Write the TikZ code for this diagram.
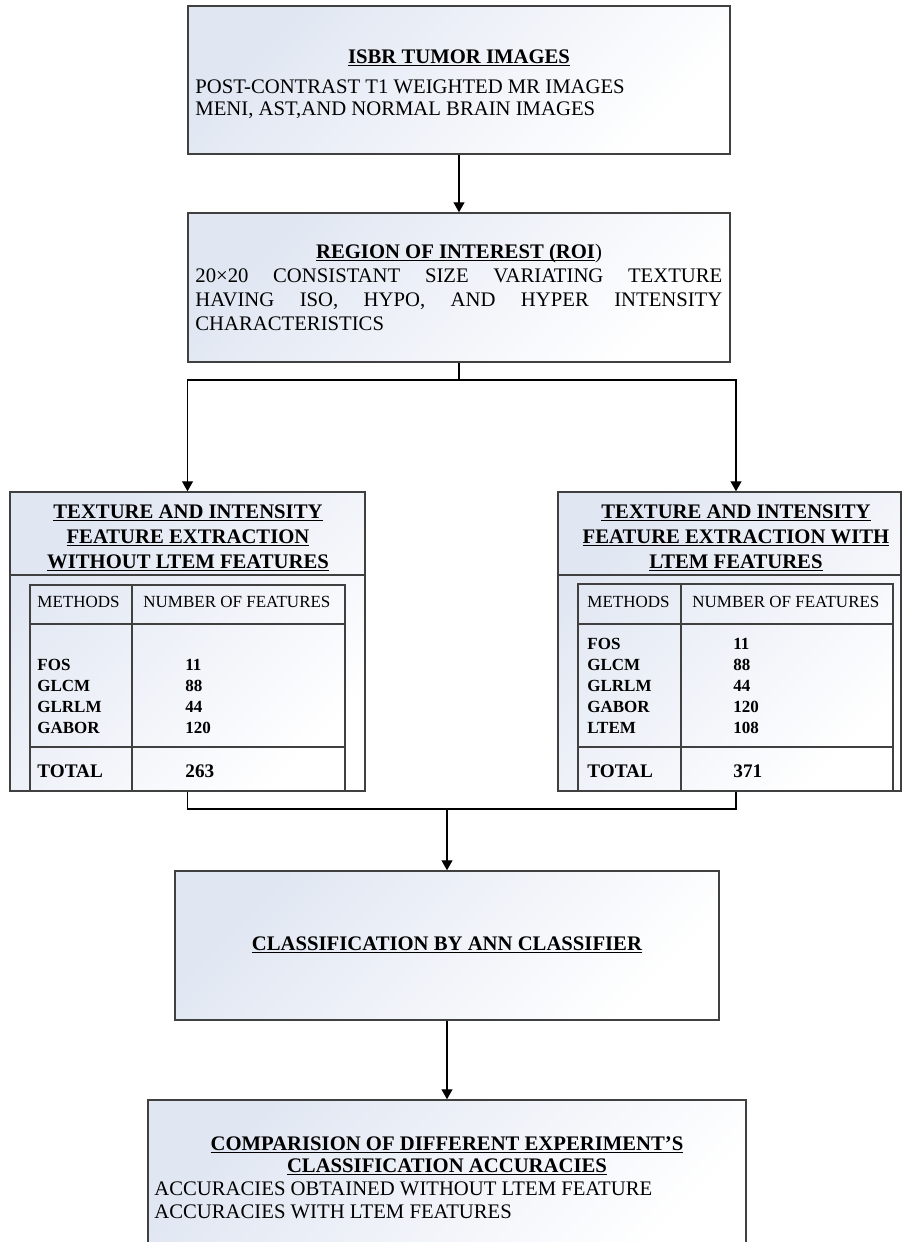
\documentclass[tikz,border=0pt]{standalone}
\usepackage{fontspec}
\setmainfont{Liberation Serif}
\usetikzlibrary{arrows.meta}
\usetikzlibrary{positioning}

\definecolor{stagefill}{RGB}{224,230,242}
\definecolor{stageline}{RGB}{64,64,64}

\newsavebox\ulbox
\newcommand\uln[1]{\sbox\ulbox{#1}\rlap{\vrule height -0.75pt depth 1.5pt width \wd\ulbox}\usebox\ulbox}

\begin{document}
\begin{tikzpicture}[x=0.5pt,y=-0.5pt,
  stage/.style={draw=stageline,line width=0.75pt,top color=stagefill,bottom color=white,shading angle=45,inner sep=0pt},
  head/.style={font=\fontsize{10.35}{12.5}\selectfont\bfseries,inner sep=0pt,align=center,anchor=base},
  body/.style={font=\fontsize{10.35}{11}\selectfont,inner sep=0pt,anchor=base west},
  cell/.style={font=\fontsize{8.5}{10}\selectfont,inner sep=0pt,anchor=base west},
  cellb/.style={font=\fontsize{8.5}{10}\selectfont\bfseries,inner sep=0pt,anchor=base west},
  total/.style={font=\fontsize{9.6}{11}\selectfont\bfseries,inner sep=0pt,anchor=base west},
  tabline/.style={draw=stageline,line width=0.6pt},
  link/.style={line width=0.65pt},
  arr/.style={link,-{Triangle[length=5pt,width=5.5pt]}}]

\useasboundingbox (0,0) rectangle (902,1242);
\clip (0,0) rectangle (902,1242);

% boxes
\node[stage,minimum width=271pt,minimum height=74pt] (isbr) at (459,80) {};
\node[stage,minimum width=271pt,minimum height=74.5pt] (roi) at (459,287.5) {};
\node[stage,minimum width=177.5pt,minimum height=149.5pt] (woltem) at (187.5,641.5) {};
\node[stage,minimum width=171.5pt,minimum height=149.5pt] (wltem) at (729.5,641.5) {};
\node[stage,minimum width=272pt,minimum height=74.5pt] (ann) at (447,945.5) {};
\node[stage,minimum width=299pt,minimum height=80pt] (comp) at (447,1180) {};

% ISBR images
\node[head] (isbrt) at (459,63) {\uln{ISBR TUMOR IMAGES}};
\node[body] (isbra) at (195,93) {POST-CONTRAST T1 WEIGHTED MR IMAGES};
\node[body] (isbrb) at (195,115) {MENI, AST,AND NORMAL BRAIN IMAGES};

% region of interest
\node[head] (roit) at (459,258) {\uln{REGION OF INTEREST (ROI}\textmd{)}};
\node[body] (roia) at (195,282) {\makebox[263.5pt][s]{20×20 CONSISTANT SIZE VARIATING TEXTURE}};
\node[body] (roib) at (195,306) {\makebox[263.5pt][s]{HAVING ISO, HYPO, AND HYPER INTENSITY}};
\node[body] (roic) at (195,330) {CHARACTERISTICS};

% feature extraction headers (base = last line)
\node[head] (woltemt) at (188,568) {\uln{TEXTURE AND INTENSITY}\\\uln{FEATURE EXTRACTION}\\\uln{WITHOUT LTEM FEATURES}};
\node[head] (wltemt) at (736,568) {\uln{TEXTURE AND INTENSITY}\\\uln{FEATURE EXTRACTION WITH}\\\uln{LTEM FEATURES}};
\draw[tabline] (woltem.west |- 0,575) -- (woltem.east |- 0,575);
\draw[tabline] (wltem.west |- 0,575) -- (wltem.east |- 0,575);

% table without LTEM
\draw[tabline] (30,585) rectangle (345,791);
\draw[tabline] (132,585) -- (132,791) (30,624) -- (345,624) (30,747) -- (345,747);
\node[cell] (wohm) at (37,607) {METHODS};
\node[cell] (wohn) at (143,607) {NUMBER OF FEATURES};
\foreach \m/\n [count=\i] in {FOS/11,GLCM/88,GLRLM/44,GABOR/120}
  \node[cellb] (wom\i) at (37,649+21*\i) {\m} node[cellb] (won\i) at (185,649+21*\i) {\n};
\node[total] (wott) at (37,777) {TOTAL};
\node[total] (wotn) at (185,777) {263};

% table with LTEM
\draw[tabline] (578,584) rectangle (893,791);
\draw[tabline] (681,584) -- (681,791) (578,624) -- (893,624) (578,747) -- (893,747);
\node[cell] (whm) at (587,607) {METHODS};
\node[cell] (whn) at (692,607) {NUMBER OF FEATURES};
\foreach \m/\n [count=\i] in {FOS/11,GLCM/88,GLRLM/44,GABOR/120,LTEM/108}
  \node[cellb] (wm\i) at (587,628+21*\i) {\m} node[cellb] (wn\i) at (733,628+21*\i) {\n};
\node[total] (wtt) at (587,777) {TOTAL};
\node[total] (wtn) at (733,777) {371};

% classification
\node[head] (annt) at (447,950) {\uln{CLASSIFICATION BY ANN CLASSIFIER}};

% comparison
\node[head,font=\fontsize{10.35}{11}\selectfont\bfseries] (compt) at (447,1172) {\uln{COMPARISION OF DIFFERENT EXPERIMENT’S}\\\uln{CLASSIFICATION ACCURACIES}};
\node[body] (compa) at (154,1195) {ACCURACIES OBTAINED WITHOUT LTEM FEATURE};
\node[body] (compb) at (154,1218) {ACCURACIES WITH LTEM FEATURES};

% connectors
\coordinate (split) at (459,380);
\coordinate (merge) at (447,809);
\draw[arr] (isbr.south) -- (roi.north);
\draw[link] (roi.south) -- (split);
\draw[arr] (split) -| (woltem.north);
\draw[arr] (split) -| (wltemt.north |- wltem.north);
\draw[link] (woltem.south) |- (merge) -| (wltemt.south |- wltem.south);
\draw[arr] (merge) -- (ann.north);
\draw[arr] (ann.south) -- (comp.north);

\end{tikzpicture}
\end{document}
